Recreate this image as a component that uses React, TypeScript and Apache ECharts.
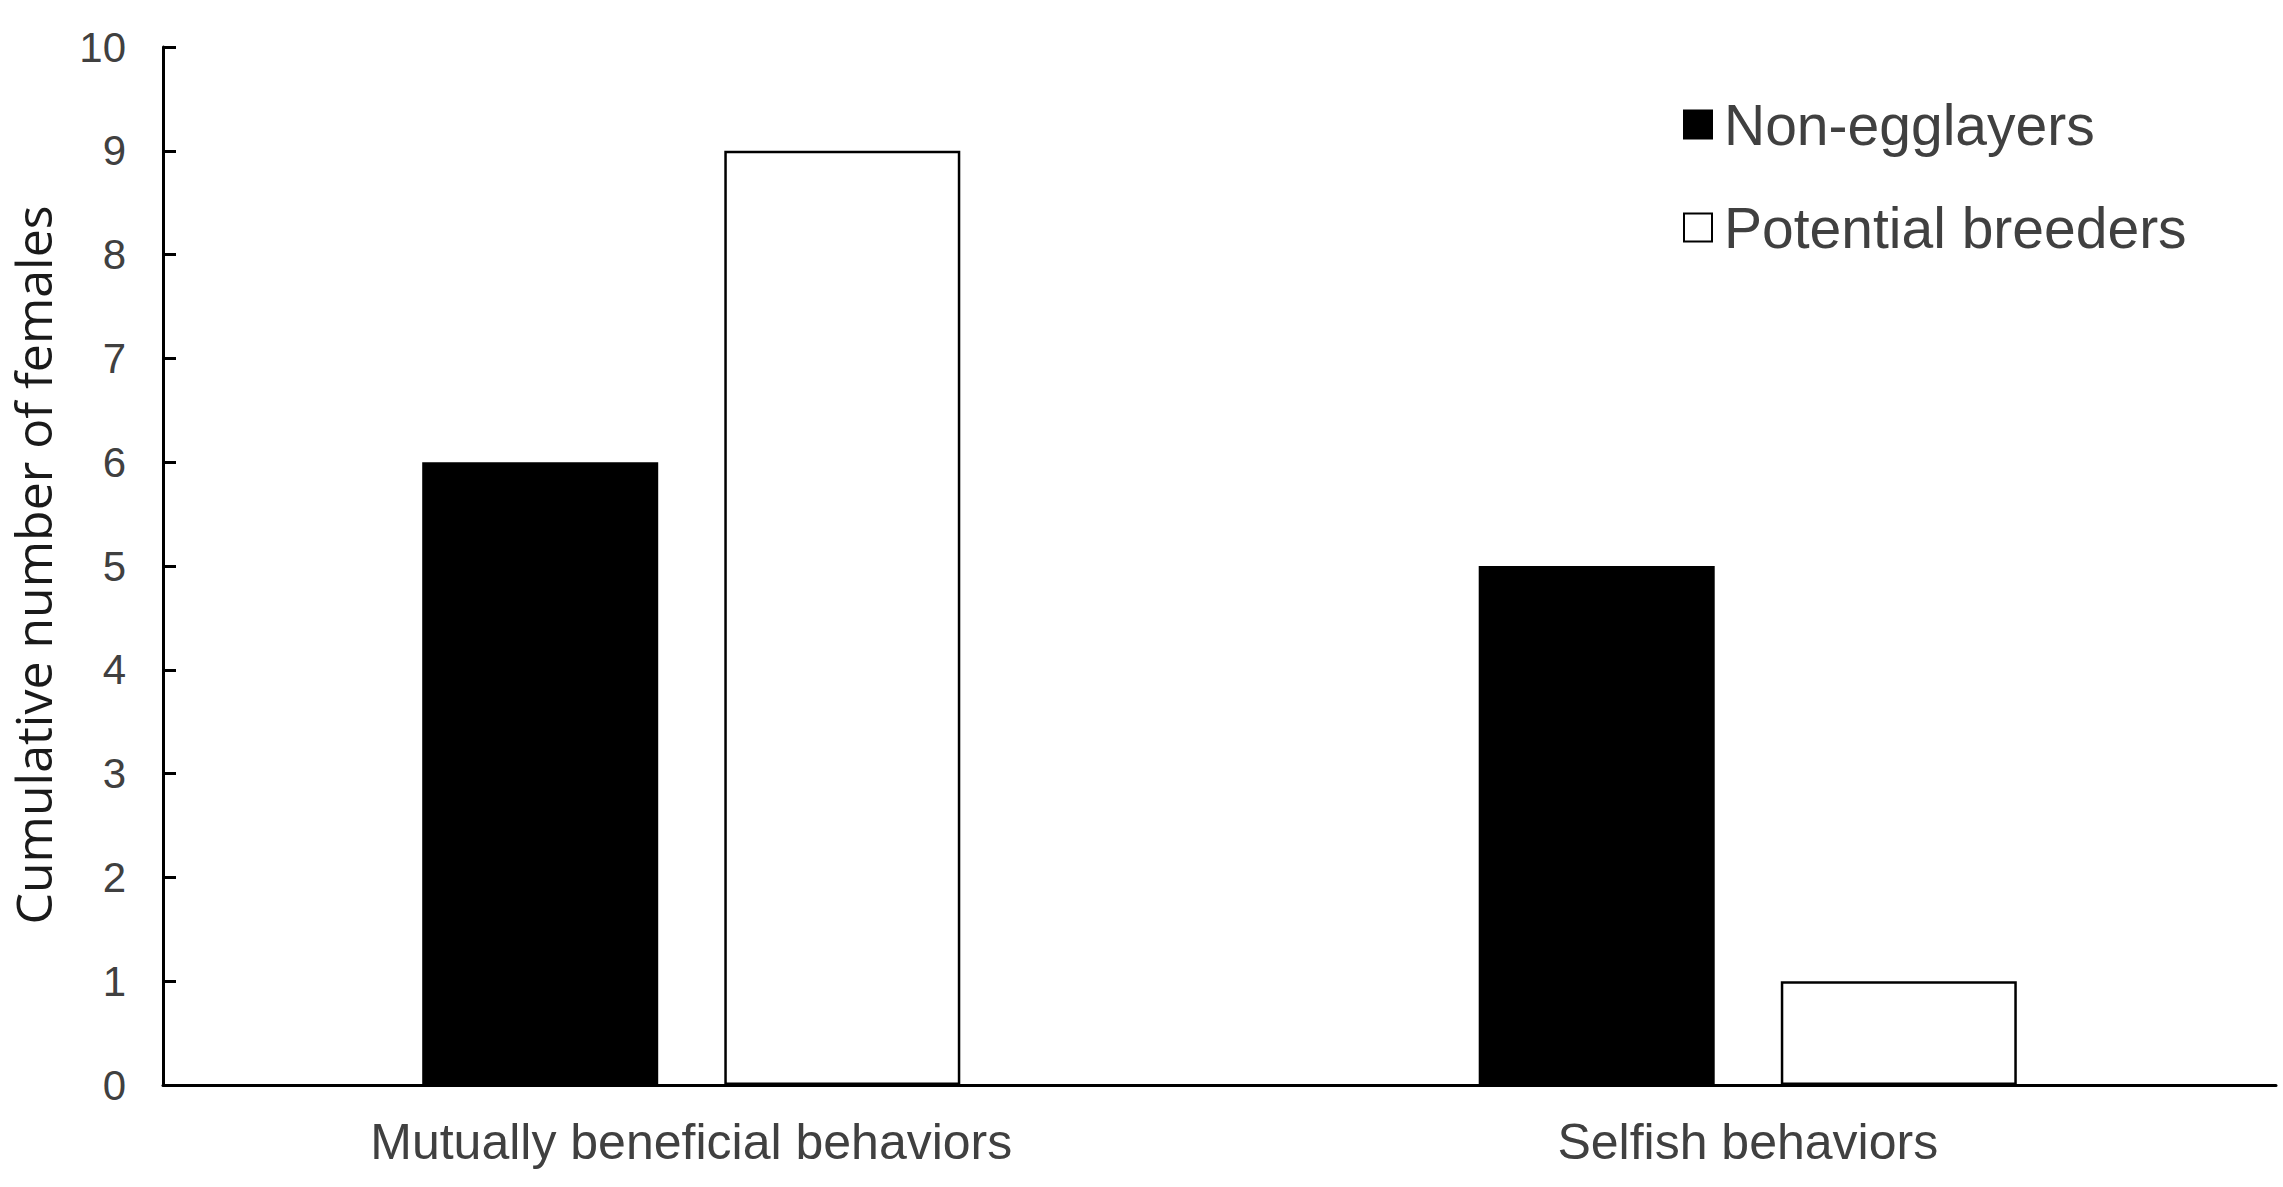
import React, { useEffect, useRef } from "react";
import * as echarts from "echarts";

const categories = ["Mutually beneficial behaviors", "Selfish behaviors"];
const nonEgglayers = [6, 5];
const potentialBreeders = [9, 1];
const seriesNames = ["Non-egglayers", "Potential breeders"];

export default function App() {
  const ref = useRef<HTMLDivElement>(null);
  useEffect(() => {
    if (!ref.current) return;
    const chart = echarts.init(ref.current, null, { renderer: "svg" });
    const grey = "#404040";
    chart.setOption({
      animation: false,
      backgroundColor: "#ffffff",
      grid: {
        left: 163,
        right: 7,
        top: 47,
        bottom: 102,
        containLabel: false,
        outerBoundsMode: "none",
      },
      legend: {
        orient: "vertical",
        left: 1678,
        top: 91,
        itemWidth: 28,
        itemHeight: 28,
        itemGap: 46,
        icon: "rect",
        textStyle: {
          fontFamily: "Liberation Sans, Arial, sans-serif",
          fontSize: 57,
          color: grey,
          padding: [0, 0, 0, 7],
        },
        data: seriesNames,
      },
      xAxis: {
        type: "category",
        data: categories,
        axisLine: { show: true, lineStyle: { color: "#000", width: 3 } },
        axisTick: { show: false },
        axisLabel: {
          fontFamily: "Liberation Sans, Arial, sans-serif",
          fontSize: 50,
          color: grey,
          margin: 32,
        },
      },
      yAxis: {
        type: "value",
        min: 0,
        max: 10,
        interval: 1,
        name: "Cumulative number of females",
        nameLocation: "middle",
        nameRotate: 90,
        nameGap: 105,
        nameTextStyle: {
          fontFamily: "Open Sans, sans-serif",
          fontSize: 50,
          color: "#1a1a1a",
          padding: [0, 0, 0, 2],
        },
        splitLine: { show: false },
        axisLine: { show: true, lineStyle: { color: "#000", width: 3 } },
        axisTick: { show: true, inside: true, length: 13, lineStyle: { color: "#000", width: 3 } },
        axisLabel: {
          fontFamily: "Liberation Sans, Arial, sans-serif",
          fontSize: 42,
          color: grey,
          margin: 37,
        },
      },
      series: [
        {
          name: seriesNames[0],
          type: "bar",
          data: nonEgglayers,
          barWidth: 236,
          barGap: "28%",
          itemStyle: { color: "#000000", borderColor: "#000000", borderWidth: 2.5 },
        },
        {
          name: seriesNames[1],
          type: "bar",
          data: potentialBreeders,
          barWidth: 236,
          barGap: "28%",
          itemStyle: { color: "#ffffff", borderColor: "#000000", borderWidth: 2.5 },
        },
      ],
    });
    return () => chart.dispose();
  }, []);
  return (
    <div
      ref={ref}
      style={{ position: "absolute", left: 0, top: 0, width: 2283, height: 1187 }}
    />
  );
}
